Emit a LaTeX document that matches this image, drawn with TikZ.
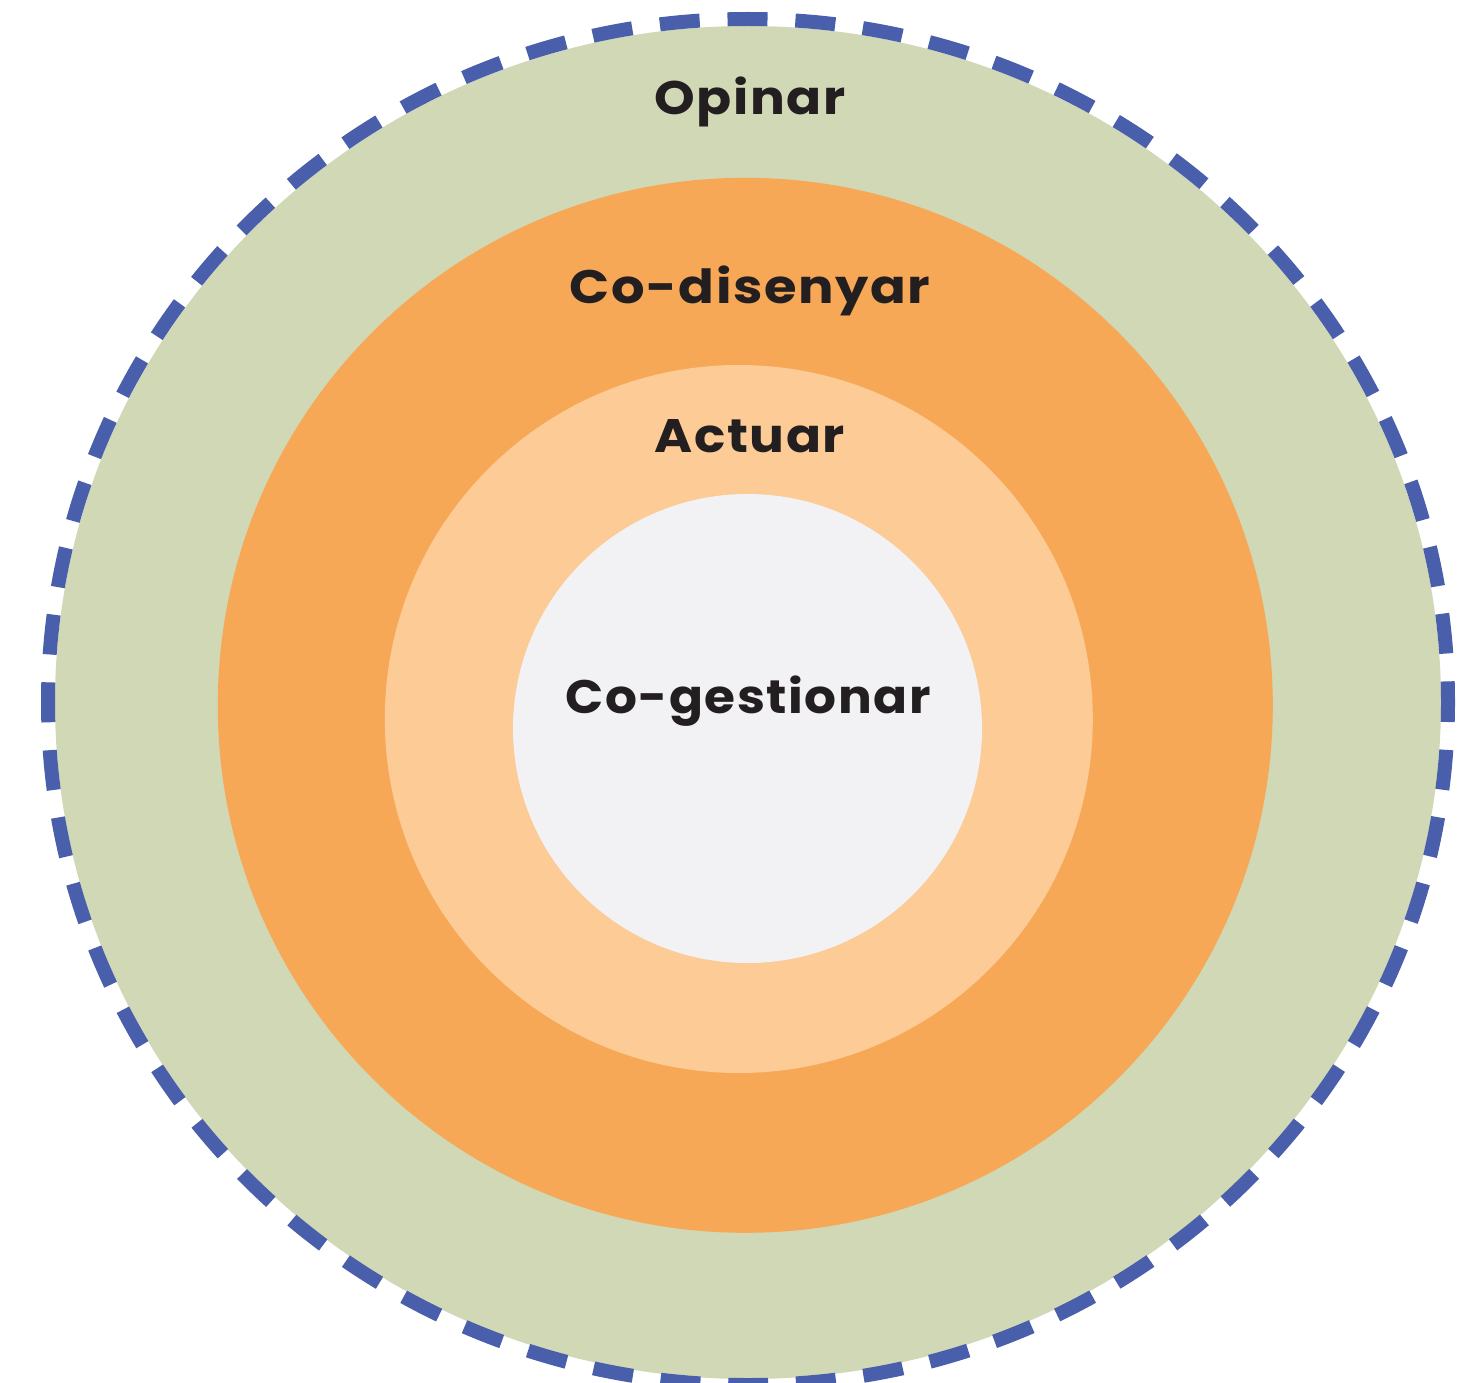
\documentclass[tikz,border=0pt]{standalone}
\usepackage{fontspec}
\setmainfont{Poppins}
\definecolor{ringgreen}{HTML}{D0D8B5}
\definecolor{ringorange}{HTML}{F7A856}
\definecolor{ringlight}{HTML}{FCCB96}
\definecolor{coregray}{HTML}{F2F2F4}
\definecolor{dashblue}{HTML}{4A5FAB}
\definecolor{labeltext}{HTML}{231F20}
\tikzset{
  ringlabel/.style={anchor=base, text=labeltext, font=\fontsize{47}{50}\selectfont\bfseries\addfontfeatures{LetterSpace=3}, inner sep=0pt, xscale=1.1, transform shape}
}
\begin{document}
\begin{tikzpicture}[x=1pt,y=-1pt]
\useasboundingbox (0,0) rectangle (1461,1383);
\fill[ringgreen] (748,702.5) ellipse [x radius=693, y radius=676.5];
\draw[dashblue, line width=14pt, dash pattern=on 40pt off 27.89pt, dash phase=20pt] (748,702) ellipse [x radius=700, y radius=683];
\fill[ringorange] (745.3,705.3) circle [radius=527.5];
\fill[ringlight] (738.8,719) circle [radius=354];
\fill[coregray] (747.5,728.5) circle [radius=234.5];
\node[ringlabel] (opinar) at (750,115) {Opinar};
\node[ringlabel, xscale=1.02] (codis) at (750,303) {Co-disenyar};
\node[ringlabel] (actuar) at (750,452) {Actuar};
\node[ringlabel, xscale=0.97] (coges) at (748,713) {Co-gestionar};
\end{tikzpicture}
\end{document}
